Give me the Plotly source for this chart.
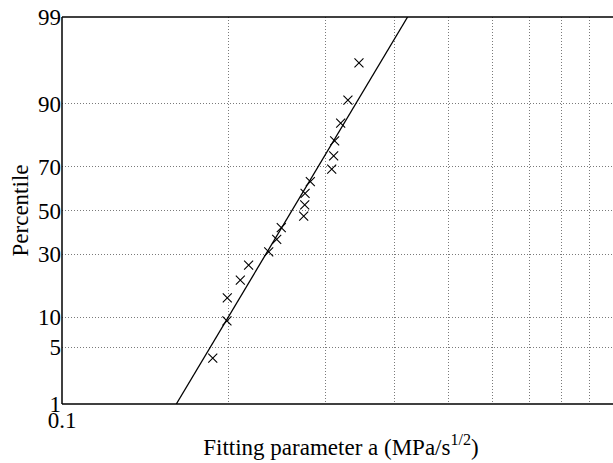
from statistics import NormalDist
import plotly.graph_objects as go

# Data (normal probability plot, log x axis)
param_a = [0.1874, 0.1988, 0.1991, 0.2102, 0.2176, 0.2366, 0.2446, 0.2493, 0.2737,
           0.2749, 0.2753, 0.2814, 0.3076, 0.3101, 0.3114, 0.3193, 0.3291, 0.3446]
percentile = [3.80, 9.24, 14.67, 20.11, 25.54, 30.98, 36.41, 41.85, 47.28,
              52.72, 58.15, 63.59, 69.02, 74.46, 79.89, 85.33, 90.76, 96.20]

fit_a = [0.161, 0.422]
fit_pct = [1, 99]

y_ticks = [1, 5, 10, 30, 50, 70, 90, 99]
x_ticks = [0.1, 0.2, 0.3, 0.4, 0.5, 0.6, 0.7, 0.8, 0.9, 1.0]
x_ticktext = ["0.1", "", "", "", "", "", "", "", "", "1"]

nd = NormalDist()
def z(p):
    return nd.inv_cdf(p / 100.0)

FONT = "Liberation Serif, Times New Roman, serif"
FS = 23

fig = go.Figure()
fig.add_trace(go.Scatter(
    x=fit_a, y=[z(p) for p in fit_pct], mode="lines",
    line=dict(color="black", width=1.3), showlegend=False, hoverinfo="skip"))
fig.add_trace(go.Scatter(
    x=param_a, y=[z(p) for p in percentile], mode="markers",
    marker=dict(symbol="x-thin", size=9, line=dict(color="black", width=1.1), color="black"),
    showlegend=False, hoverinfo="skip"))

# frame: left, bottom, top (right part of the figure lies outside the 613px window)
for x0, y0, x1, y1 in [(0, 0, 0, 1), (0, 0, 1, 0), (0, 1, 1, 1)]:
    fig.add_shape(type="line", xref="paper", yref="paper", x0=x0, y0=y0, x1=x1, y1=y1,
                  line=dict(color="black", width=1.5), layer="above")

fig.update_layout(
    width=620, height=463,
    margin=dict(l=62, r=0, t=17, b=59),
    paper_bgcolor="white", plot_bgcolor="white",
    font=dict(family=FONT, size=FS, color="black"),
    hovermode=False,
    xaxis=dict(
        type="log", range=[-1, 0.0096],
        tickvals=x_ticks, ticktext=x_ticktext,
        showgrid=True, gridcolor="#7a7a7a", griddash="1px,2px", gridwidth=1,
        showline=False, ticks="", zeroline=False, automargin=False,
        title=dict(text="Fitting parameter a (MPa/s<sup>1/2</sup>)", standoff=6,
                   font=dict(size=FS)),
        tickfont=dict(size=FS),
    ),
    yaxis=dict(
        range=[z(1), z(99)],
        tickvals=[z(p) for p in y_ticks], ticktext=[str(p) for p in y_ticks],
        showgrid=True, gridcolor="#7a7a7a", griddash="1px,2px", gridwidth=1,
        showline=False, ticks="", zeroline=False, automargin=False,
        title=dict(text="Percentile", standoff=2, font=dict(size=FS)),
        tickfont=dict(size=FS),
    ),
)

fig.write_html("out.html", config={"displayModeBar": False, "staticPlot": True},
               post_script="document.body.style.margin='0px';document.body.style.overflow='hidden';")
